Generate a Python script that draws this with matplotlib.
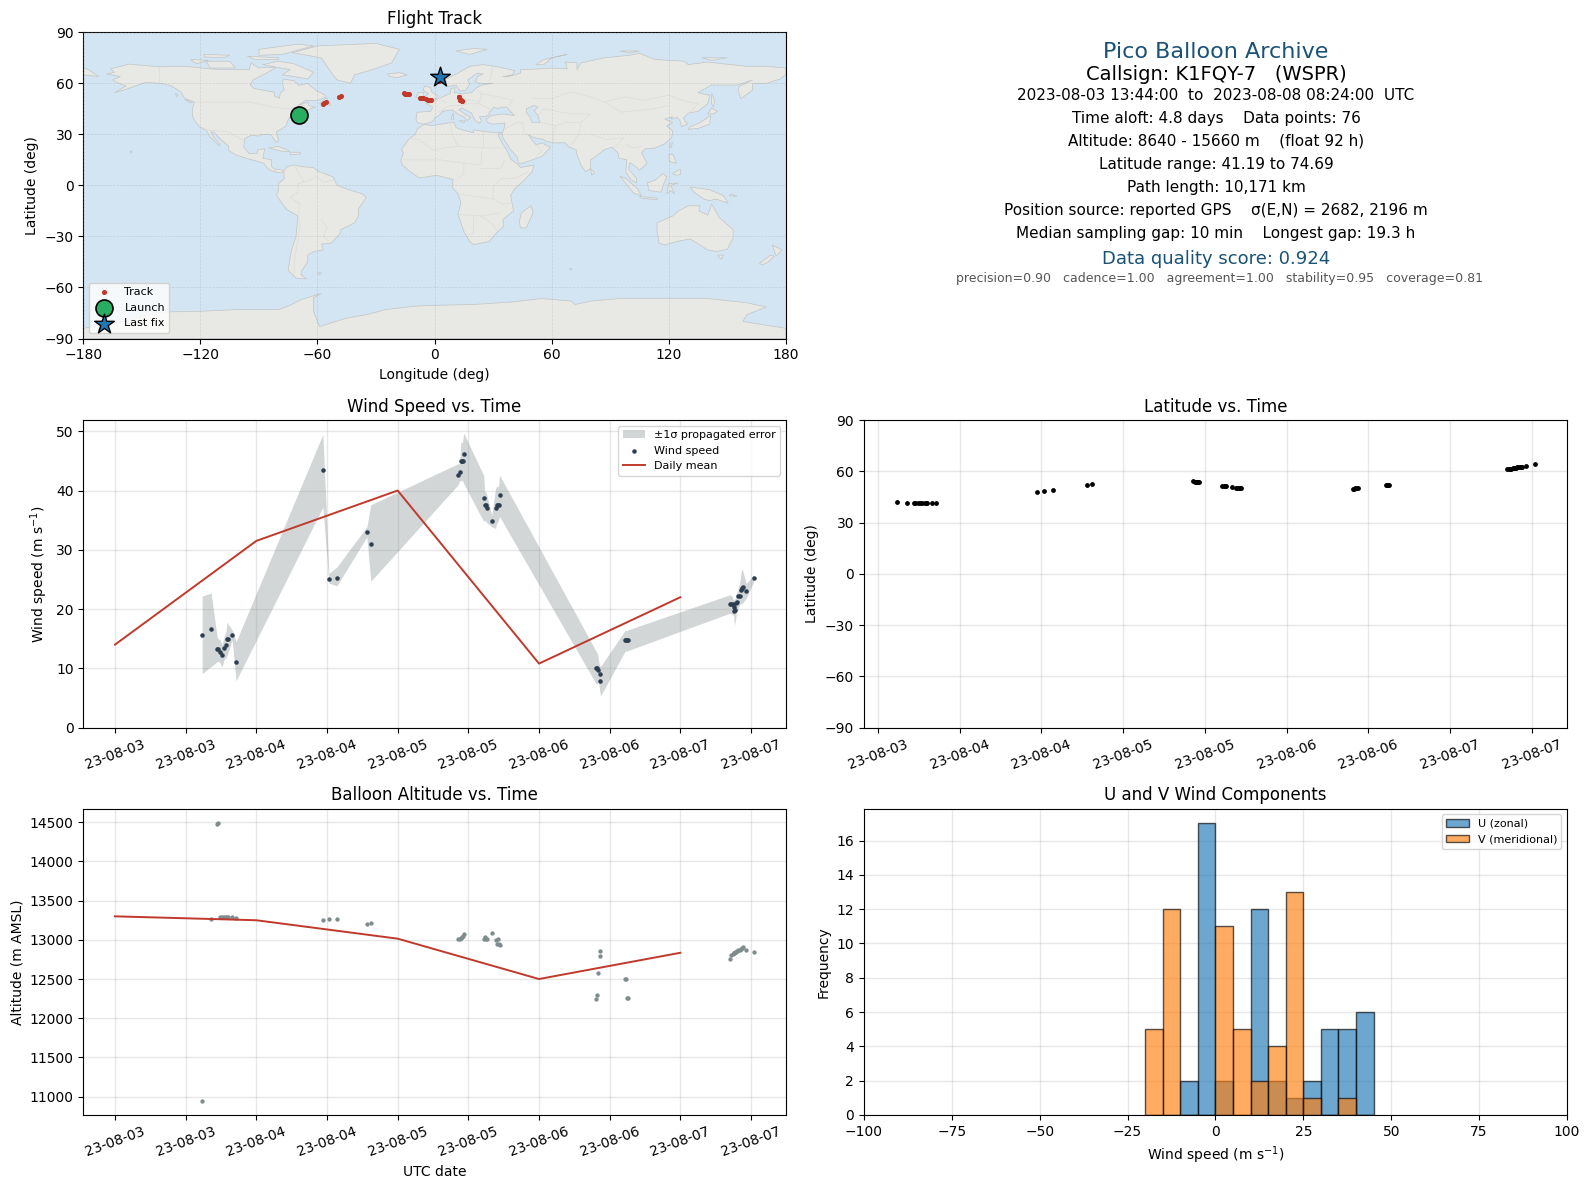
import matplotlib
matplotlib.use("Agg")
import matplotlib.pyplot as plt
import matplotlib.dates as mdates

# ---------- time axis data (days since 2023-08-03 00:00) ----------
t_days = [0.617,0.680,0.723,0.730,0.744,0.758,0.772,0.786,0.793,0.800,0.829,0.857,
          1.471,1.514,1.570,1.782,1.810,
          2.425,2.439,2.446,2.453,2.460,2.467,
          2.608,2.615,2.622,2.630,2.665,2.693,2.700,2.707,2.714,2.721,
          3.406,3.413,3.420,3.428,3.435,
          3.609,3.616,3.623,3.630,
          4.350,4.360,4.369,4.376,4.383,4.390,4.397,4.404,4.411,4.419,4.426,4.433,4.440,4.466,4.518]
wind = [15.7,16.6,13.2,13.2,12.7,12.2,13.5,14.0,15.0,15.0,15.7,11.1,
        43.4,25.0,25.3,33.0,31.0,
        42.7,43.1,44.9,44.9,44.9,46.1,
        38.7,37.6,37.6,37.0,34.8,37.0,37.5,37.5,37.5,39.2,
        10.0,10.0,9.8,9.0,7.8,
        14.7,14.7,14.7,14.7,
        20.8,20.8,20.8,20.3,19.6,19.8,21.1,21.2,22.2,22.2,23.3,23.6,23.8,23.0,25.2]
wind_hi = [22.2,22.7,15.3,15.0,14.8,14.0,15.3,16.3,17.8,17.5,16.5,14.5,
           49.5,26.0,27.1,33.9,37.6,
           44.5,44.6,48.1,48.1,48.2,49.7,
           42.6,39.9,39.8,39.4,35.8,40.4,40.6,40.7,40.8,42.6,
           12.8,12.5,11.5,10.5,10.3,
           16.4,16.4,16.4,16.5,
           22.4,22.3,22.0,21.5,21.7,21.8,22.8,22.9,23.8,24.3,25.5,26.7,26.6,24.3,25.8]
wind_lo = [9.1,10.3,11.1,11.2,10.9,10.2,11.5,11.8,12.2,12.6,14.8,7.9,
           37.2,24.4,23.9,32.2,24.7,
           40.9,41.6,41.7,41.7,41.6,41.2,
           34.8,35.0,34.8,34.6,33.9,33.6,34.5,34.6,35.0,35.6,
           7.3,7.4,7.9,6.5,5.3,
           12.9,12.9,12.9,13.0,
           19.3,19.2,19.0,19.0,17.3,18.0,19.5,19.6,20.4,20.6,21.0,20.9,21.0,21.8,24.6]
altitude = [10950,13272,14480,14490,13293,13293,13293,13293,13293,13293,13289,13276,
            13259,13272,13272,13196,13209,
            13005,13010,13020,13030,13055,13070,
            13005,13030,13005,13005,13081,13000,12945,13013,12945,12928,
            12243,12294,12573,12789,12852,
            12500,12500,12259,12259,
            12755,12810,12820,12830,12835,12845,12850,12860,12865,12875,12885,12895,12905,12866,12840]
latitude = [41.9,41.2,41.3,41.3,41.3,41.3,41.3,41.3,41.3,41.3,41.3,41.2,
            47.9,48.5,49.1,52.0,52.6,
            54.3,54.0,53.8,53.7,53.6,53.6,
            51.5,51.5,51.4,51.4,50.8,50.3,50.2,50.2,50.1,50.1,
            49.4,49.7,50.0,50.1,50.1,
            52.0,52.0,52.0,52.0,
            61.3,61.4,61.5,61.6,61.7,61.8,62.0,62.2,62.3,62.4,62.5,62.6,62.7,63.2,64.3]
longitude = [-69.4,-69.4,-69.3,-69.3,-69.3,-69.3,-69.3,-69.3,-69.3,-69.3,-69.2,-69.2,
             -57.2,-56.6,-55.8,-49.2,-47.8,
             -15.6,-15.0,-14.5,-14.0,-13.5,-13.0,
             -7.7,-7.2,-6.6,-6.0,-4.6,-3.6,-3.0,-2.6,-2.2,-1.6,
             14.2,13.9,13.6,13.2,12.8,
             12.4,12.5,12.6,12.7,
             2.2,2.3,2.4,2.4,2.5,2.5,2.6,2.7,2.7,2.8,2.8,2.9,2.9,3.0,3.1]
daily_t = [0, 1, 2, 3, 4]
daily_wind = [14.0, 31.5, 40.0, 10.8, 22.0]
daily_alt = [13300, 13250, 13015, 12500, 12835]
launch_pos = (-69.3, 41.5)
last_pos = (3.0, 63.5)

hist_left = [-20,-15,-10,-5,0,5,10,15,20,25,30,35,40]
hist_u = [0,0,2,17,2,0,12,2,1,2,5,5,6]
hist_v = [5,12,0,0,11,5,2,4,13,1,0,1,0]

info_lines = ["2023-08-03 13:44:00  to  2023-08-08 08:24:00  UTC",
              "Time aloft: 4.8 days    Data points: 76",
              "Altitude: 8640 - 15660 m    (float 92 h)",
              "Latitude range: 41.19 to 74.69",
              "Path length: 10,171 km",
              "Position source: reported GPS    \u03c3(E,N) = 2682, 2196 m",
              "Median sampling gap: 10 min    Longest gap: 19.3 h"]

# ---------- simplified base map (lon, lat) ----------
north_america = [(-168,65.5),(-164,66.5),(-166,68.5),(-156.5,71.3),(-141,69.7),(-128,70),(-115,68.5),(-108,68),(-95,68),(-94,72),(-90,69),(-85,69.5),(-81.5,69),(-87,65.5),(-93,62),(-94.5,59),(-92.5,57),(-85,55.3),(-82.3,55),(-82,52.5),(-79.5,51.2),(-79,54.5),(-77,56),(-78,60),(-77.5,62.5),(-72,61.5),(-69.5,58.8),(-65,60),(-61,56),(-56,53),(-56,51.8),(-60,50),(-66,50),(-70,47),(-65,49),(-64.5,47),(-61,46),(-66,44),(-70,43.5),(-70.5,41.7),(-74,40.5),(-75.5,37.5),(-76,35),(-81,31.5),(-80,26.5),(-81,25.2),(-82.8,28),(-84,30),(-89,30),(-90,29),(-94,29.5),(-97.3,27.5),(-97.8,22.5),(-95,18.7),(-91,18.7),(-90.5,21),(-87,21.5),(-88,16),(-83.5,15),(-83.5,11),(-81.5,9),(-79.5,9.5),(-77.3,8.5),(-78,7.5),(-80,7.5),(-83,8.3),(-85.5,10),(-87.5,13),(-92,14.5),(-96,15.8),(-102,18),(-105.5,20.5),(-105.5,23),(-110,27.5),(-112.8,31),(-114.7,31.5),(-113,28),(-110,24),(-110,23),(-112,25),(-115,28.5),(-117,32.5),(-120.5,34.5),(-122.5,37.5),(-124,40.5),(-124,46),(-123,49),(-128,51),(-130,55),(-135,58.5),(-140,60),(-148,60.5),(-152,59),(-158,56.5),(-164,54.5),(-158,58.5),(-162,60),(-165,62),(-161,64)]
south_america = [(-77.3,8.5),(-75.5,11),(-72,12),(-68,11),(-62,10.5),(-60,8.5),(-52,5),(-50,0),(-44,-2.5),(-37,-5),(-35,-7),(-39,-14),(-39,-18),(-41,-22),(-48,-26),(-48.5,-28.5),(-53,-34),(-58,-34.5),(-57,-38),(-62,-39),(-65,-41),(-65,-45),(-68,-50),(-68.5,-52.5),(-65.5,-55),(-71,-54.5),(-75,-50),(-74,-42),(-73,-37),(-71,-30),(-70,-18),(-76,-14),(-81,-6),(-80,-2.5),(-80,1),(-77,4)]
africa = [(-5.5,35.8),(-1,35.2),(10,37.3),(11,34),(15,32.3),(20,31),(20,32.7),(25,31.7),(32,31),(34.8,31.2),(32.5,30),(35,24),(37,21),(39,15.5),(43,12),(44,10.5),(51,12),(50,8),(45,2),(41,-2),(39,-6),(40.5,-15),(35,-20),(35.5,-24),(32.5,-27),(28,-33),(20,-34.8),(18,-33),(15,-27),(12,-17),(13.5,-10),(12,-5),(9,-1),(9.5,3.5),(6,4.5),(1,6),(-4,5),(-8,4.5),(-13,8.5),(-16.5,12),(-17.3,14.7),(-16,19),(-17,21),(-13,27.5),(-9.8,30),(-9,33)]
eurasia = [(-9,37),(-9.5,38.8),(-9,43),(-2,43.5),(-1,46),(-4.5,48.3),(-1.5,48.7),(2,51),(4,52),(8,54),(8.5,57),(10.5,57.5),(10,54.5),(14,54),(19,54.5),(21,57),(24,59),(30,60),(23,60),(21,61),(22,64),(25,65.5),(22,66),(17,62),(18,59.5),(16,56),(13,55.5),(11,59),(6,58),(5,62),(12,66),(18,70),(25,71),(31,70),(41,67.5),(40,65),(35,64),(38,64),(44,66),(44,68),(54,68.5),(60,69),(68,68.5),(67,72.5),(73,72),(73,68),(75,72),(81,73.5),(87,75),(100,76.5),(105,77.7),(113,74),(128,73),(130,71),(140,72.5),(160,70),(170,70),(180,69),(180,65),(177,62.5),(170,60),(163,60),(163,56),(157,51),(155.5,56),(156,58),(163,62),(155,59),(142,59),(135,54.5),(141,53),(140,48),(135,43.5),(130,42.5),(127.5,39.5),(129.5,36),(126.5,34.5),(126,37.5),(124.5,40),(121,39),(122,40.5),(118,39),(122,37),(119,35),(122,32),(121.5,28),(118,24.5),(113,22),(108,21.5),(106,19),(109,13),(105,9),(103,11),(100,13.5),(99.5,9.5),(103.5,4),(103.5,1.5),(100.5,3.5),(98,8),(98.5,15),(94.5,16),(94,19),(91,22.5),(87,21),(82,16.5),(80,15),(80,10),(77.5,8),(75,12),(73,18),(72.5,21),(69,22.5),(67,25),(61,25),(57,26),(56,27),(51,28),(48,30),(50,26.5),(52,24),(56,25),(56.5,24),(59.5,22.5),(55,17),(45,13),(43,13),(42.5,16.5),(39,21),(35,28),(34.8,29.5),(35,31.5),(36,35),(36,36.7),(30,36),(27,37),(26.5,39),(29,41),(35,42),(41,41),(38,44.5),(37,46),(34,46),(33,45),(30.5,46),(28,43),(28,41.5),(26,40.5),(23,40.5),(24,38),(23,36.5),(21,38),(19.5,41),(19,42.5),(14,45.5),(12.5,44.5),(16,41.5),(18.5,40),(16.5,38),(15.5,40),(12,42),(9,44.4),(4,43.5),(3,41.8),(0,39.5),(-0.5,38),(-2,37),(-5.5,36)]
antarctica = [(-180,-84),(-160,-80),(-150,-77),(-142,-74.5),(-120,-74),(-101,-73),(-80,-73),(-75,-71),(-68,-67),(-58,-63.5),(-62,-66),(-62,-74),(-59,-83),(-45,-78),(-35,-76),(-25,-73),(-10,-71),(0,-70.5),(20,-70),(40,-68.5),(55,-66.5),(70,-68),(72,-70),(80,-68),(95,-66.5),(120,-66.5),(140,-66.5),(160,-69),(170,-71.5),(160,-76),(158,-80),(180,-84),(180,-90),(-180,-90)]
greenland = [(-73,78),(-60,82),(-30,83.5),(-18,80),(-22,72),(-32,68),(-41,65),(-43,60),(-50,62),(-54,68),(-58,75)]
australia = [(114,-22),(122,-18),(125,-15),(130,-12),(136,-12),(135.5,-15),(140,-17.5),(142,-11),(146,-19),(153,-26),(153,-31),(150,-37.5),(145,-38.8),(140,-38),(136,-35),(131,-31.5),(124,-33),(118,-35),(115,-34),(114,-27)]
islands = [
    [(-80,73),(-72,71.5),(-62,66.5),(-65,62.5),(-72,64),(-78,65),(-74,68),(-88,71)],
    [(-117,73),(-105,73),(-102,69),(-115,69)],
    [(-90,80),(-70,83),(-62,82),(-78,77),(-90,76.5)],
    [(-125,74),(-116,73.5),(-122,71.5)],
    [(-96,76),(-80,75),(-80,74),(-92,74)],
    [(-118,77),(-105,76.5),(-108,75),(-118,75.5)],
    [(-59,48),(-55.5,51.5),(-53,47)],
    [(-85,22),(-80,23),(-74,20),(-78,20)],
    [(-74,19.5),(-69,19.5),(-68.5,18.5),(-74,18)],
    [(-156,20.2),(-155,19.8),(-155.5,19)],
    [(-133,54),(-131.5,53.5),(-132,52)],
    [(-128,50.8),(-124,49),(-125.5,48.5)],
    [(-5.5,50),(1,51.2),(1.5,52.8),(-1.5,55),(-2,57.5),(-5,58.5),(-6,56),(-3,54),(-5,52)],
    [(-10,52),(-6,52),(-6,55),(-8.5,55)],
    [(-24,65.5),(-18,66.3),(-14,65),(-19,63.4),(-23,64)],
    [(11,79),(20,80.5),(27,80),(18,77)],
    [(52,71),(56,74),(68,77),(60,75),(56,71)],
    [(95,79),(105,79),(100,78)],
    [(137,75),(150,75),(142,73.5)],
    [(142,54),(143.5,50),(143,46),(142,48)],
    [(130,33),(135,33.5),(141,36),(141.5,41),(140,40),(136,36.8),(131,34.5)],
    [(140,42),(142,45.5),(145,43.5),(143,42)],
    [(120.5,23),(121,25),(122,25),(121,22)],
    [(120,18),(122,18.5),(124,13),(120.5,14)],
    [(122,7),(126,9.5),(126,6.5),(124,6)],
    [(80,9.7),(82,7.5),(80.5,6)],
    [(109,1.5),(113,3),(117,7),(119,5),(117.5,1),(116,-4),(110,-3)],
    [(95,5.5),(98,4),(104,-2),(106,-6),(102,-4.5)],
    [(105,-6.5),(114,-7.5),(114,-8.5),(106,-7.5)],
    [(119,-5),(120,1),(125,1.5),(121,0),(123,-5),(121,-3)],
    [(131,-1),(141,-2.5),(148,-6),(150.5,-10.5),(144,-8),(141,-9),(138,-8),(133,-4)],
    [(145,-41),(148,-41),(147,-43.5)],
    [(166.5,-46),(172,-41),(174,-41.5),(171,-45),(168,-46.8)],
    [(173,-35),(178,-38),(175,-41.5),(174,-38)],
    [(49.5,-12),(50.5,-16),(47,-25),(44,-25),(43.5,-21),(44.5,-16)],
    [(-180,65),(-172,64),(-178,68.5),(-180,68.5)],
    [(-60,-51.5),(-58,-51.5),(-59,-52.3)],
    [(69,-49),(70.5,-49),(70,-49.8)],
    [(152,-5),(155,-6.5),(151,-6)],
    [(9,41),(9.7,42.5),(9.8,39),(8.5,39)],
    [(12.5,38),(15.5,38),(15,36.8)],
]
inland_water = [
    [(47,45),(51,47),(53,46),(51,44),(53,41),(54,37),(50,37),(49,40),(47,43)],
]
border_lines = [
    [(-123,49),(-95,49),(-83,46),(-75,45),(-67,47)],
    [(-117,32.5),(-106,31.7),(-97.5,26)],
    [(-141,60),(-141,69.7)],
    [(-70,-18),(-69,-11),(-74,-7),(-70,-4),(-70,1),(-67,2),(-60,5),(-57,2),(-52,3)],
    [(-58,-20),(-55,-25),(-57,-30),(-53,-34)],
    [(-70,-18),(-69,-22),(-70,-32),(-72,-45),(-72,-52)],
    [(-72,12),(-67,2)],
    [(-8,27),(-1,21),(12,23),(25,22),(36,22)],
    [(25,22),(25,32)],
    [(12,23),(9,30),(8,37)],
    [(-8,27),(-13,27.5)],
    [(-17,15),(-5,15),(3,15),(15,13),(24,12),(24,20)],
    [(24,10),(34,10),(36,15)],
    [(30,-1),(34,4),(41,4),(48,8)],
    [(12,4),(15,7),(15,13)],
    [(12,-5),(30,-8),(30,-1)],
    [(30,-8),(35,-11),(40,-10.5)],
    [(12,-17),(24,-18),(34,-16)],
    [(20,-18),(20,-28),(17,-29)],
    [(24,-18),(29,-22),(32,-26)],
    [(2,43),(8,47),(14,47),(17,48),(23,48),(28,45)],
    [(6,49),(2,51)],
    [(14,54),(15,51),(23,49),(24,54),(21,57)],
    [(28,60),(30,70)],
    [(24,54),(33,52),(40,50),(38,47)],
    [(50,51),(60,51),(70,55),(83,51),(87,49),(98,52),(107,50),(120,53),(127,50),(135,48),(131,43)],
    [(87,49),(96,43),(112,45),(120,47)],
    [(54,37),(62,35),(67,37),(75,37),(80,42),(70,42),(56,45),(53,41)],
    [(61,25),(61,30),(62,35)],
    [(75,37),(74,30),(70,24)],
    [(80,30),(88,27),(97,28),(92,22)],
    [(98,24),(102,22),(106,23)],
    [(45,37),(46,30),(48,30)],
    [(36,33),(42,37),(45,37)],
    [(52,17),(55,20),(52,24)],
]

RED = "#C0392B"
NAVY = "#2C3E50"
GREY = "#7F8C8D"
TITLE_BLUE = "#1A5276"
LAND = "#E8E8E4"
OCEAN = "#D3E5F2"
COAST = "#C2C5C5"

W, H = 1590, 1189
fig = plt.figure(figsize=(W/100, H/100), dpi=100)

def box(x0, x1, y0, y1):
    return [x0/W, 1-y1/H, (x1-x0)/W, (y1-y0)/H]

L0, L1, R0, R1 = 83.3, 785.8, 863.8, 1567
ax_map = fig.add_axes(box(L0, L1, 32.3, 338.5))
ax_wind = fig.add_axes(box(L0, L1, 420, 727.6))
ax_lat = fig.add_axes(box(R0, R1, 420, 727.6))
ax_alt = fig.add_axes(box(L0, L1, 808.8, 1115))
ax_hist = fig.add_axes(box(R0, R1, 808.8, 1115))

# ---------- map ----------
ax_map.set_facecolor(OCEAN)
for poly in [north_america, south_america, africa, eurasia, antarctica, greenland, australia] + islands:
    xs, ys = zip(*poly)
    ax_map.fill(xs, ys, facecolor=LAND, edgecolor=COAST, linewidth=0.5, zorder=1)
for poly in inland_water:
    xs, ys = zip(*poly)
    ax_map.fill(xs, ys, facecolor=OCEAN, edgecolor=COAST, linewidth=0.5, zorder=1.5)
for line in border_lines:
    xs, ys = zip(*line)
    ax_map.plot(xs, ys, color="#DCDCD8", linewidth=0.5, zorder=1.6)
ax_map.scatter(longitude, latitude, s=7, color=RED, label="Track", zorder=4)
ax_map.scatter(*launch_pos, s=150, color="#27AE60", edgecolor="black", linewidth=1.2, label="Launch", zorder=5)
ax_map.scatter(*last_pos, s=220, marker="*", color="#1F77B4", edgecolor="black", linewidth=1.0, label="Last fix", zorder=5)
ax_map.set_xlim(-180, 180)
ax_map.set_ylim(-90, 90)
ax_map.set_xticks(range(-180, 181, 60))
ax_map.set_yticks(range(-90, 91, 30))
ax_map.grid(True, color="#999999", alpha=0.3, linewidth=0.5, linestyle="--", zorder=2)
ax_map.set_axisbelow(False)
ax_map.set_xlabel("Longitude (deg)")
ax_map.set_ylabel("Latitude (deg)")
ax_map.set_title("Flight Track", fontsize=12)
ax_map.legend(loc="lower left", fontsize=8)

# ---------- time panels ----------
base = mdates.date2num(mdates.datetime.datetime(2023, 8, 3))
t = [base + v for v in t_days]
td = [base + v for v in daily_t]
half_days = [k * 0.5 for k in range(10)]
GRID_ALPHA = 0.3

def time_axis(ax, ticks):
    ax.xaxis_date()
    ax.set_xticks([base + v for v in ticks])
    ax.xaxis.set_major_formatter(mdates.DateFormatter("%y-%m-%d"))
    ax.tick_params(axis="x", labelrotation=20)
    ax.grid(True, alpha=GRID_ALPHA, linewidth=1)
    ax.set_axisbelow(True)

ax_wind.fill_between(t, wind_lo, wind_hi, color=GREY, alpha=0.35, linewidth=0, label="\u00b11\u03c3 propagated error")
ax_wind.scatter(t, wind, s=5, color=NAVY, label="Wind speed", zorder=3)
ax_wind.plot(td, daily_wind, color=RED, linewidth=1.4, label="Daily mean", zorder=3)
ax_wind.set_xlim(base - 0.224, base + 4.746)
ax_wind.set_ylim(0, 51.9)
time_axis(ax_wind, half_days)
ax_wind.set_ylabel("Wind speed (m s$^{-1}$)")
ax_wind.set_title("Wind Speed vs. Time", fontsize=12)
ax_wind.legend(loc="upper right", fontsize=8)

ax_lat.scatter(t, latitude, s=6, color="black", zorder=3)
ax_lat.set_xlim(base + 0.414, base + 4.716)
ax_lat.set_ylim(-90, 90)
ax_lat.set_yticks(range(-90, 91, 30))
time_axis(ax_lat, half_days[1:])
ax_lat.set_ylabel("Latitude (deg)")
ax_lat.set_title("Latitude vs. Time", fontsize=12)

ax_alt.scatter(t, altitude, s=4.5, color=GREY, zorder=3)
ax_alt.plot(td, daily_alt, color=RED, linewidth=1.4, zorder=3)
ax_alt.set_xlim(base - 0.224, base + 4.746)
ax_alt.set_ylim(10765, 14672)
ax_alt.set_yticks(range(11000, 14501, 500))
time_axis(ax_alt, half_days)
ax_alt.set_xlabel("UTC date")
ax_alt.set_ylabel("Altitude (m AMSL)")
ax_alt.set_title("Balloon Altitude vs. Time", fontsize=12)

# ---------- histogram ----------
ax_hist.bar(hist_left, hist_u, width=5, align="edge", color="#1F77B4", alpha=0.65, edgecolor="black", linewidth=1, label="U (zonal)")
ax_hist.bar(hist_left, hist_v, width=5, align="edge", color="#FF7F0E", alpha=0.65, edgecolor="black", linewidth=1, label="V (meridional)")
ax_hist.set_xlim(-100, 100)
ax_hist.set_ylim(0, 17.85)
ax_hist.set_yticks(range(0, 17, 2))
ax_hist.grid(True, alpha=GRID_ALPHA, linewidth=1)
ax_hist.set_axisbelow(True)
ax_hist.set_xlabel("Wind speed (m s$^{-1}$)")
ax_hist.set_ylabel("Frequency")
ax_hist.set_title("U and V Wind Components", fontsize=12)
ax_hist.legend(loc="upper right", fontsize=8)

# ---------- summary text ----------
def label(y, s, x=1216, **kw):
    fig.text(x/W, 1-y/H, s, ha="center", va="center", **kw)

label(52, "Pico Balloon Archive", fontsize=16, color=TITLE_BLUE)
label(74, "Callsign: K1FQY-7   (WSPR)", fontsize=14, color="black")
for y, s in zip([95.5, 118.6, 141.5, 164.5, 187.6, 210.6, 233.5], info_lines):
    label(y, s, fontsize=11, color="black")
label(258.5, "Data quality score: 0.924", fontsize=13, color=TITLE_BLUE)
label(279, "precision=0.90   cadence=1.00   agreement=1.00   stability=0.95   coverage=0.81", x=1220, fontsize=9, color="#555555")

fig.savefig("out.png", dpi=100)
